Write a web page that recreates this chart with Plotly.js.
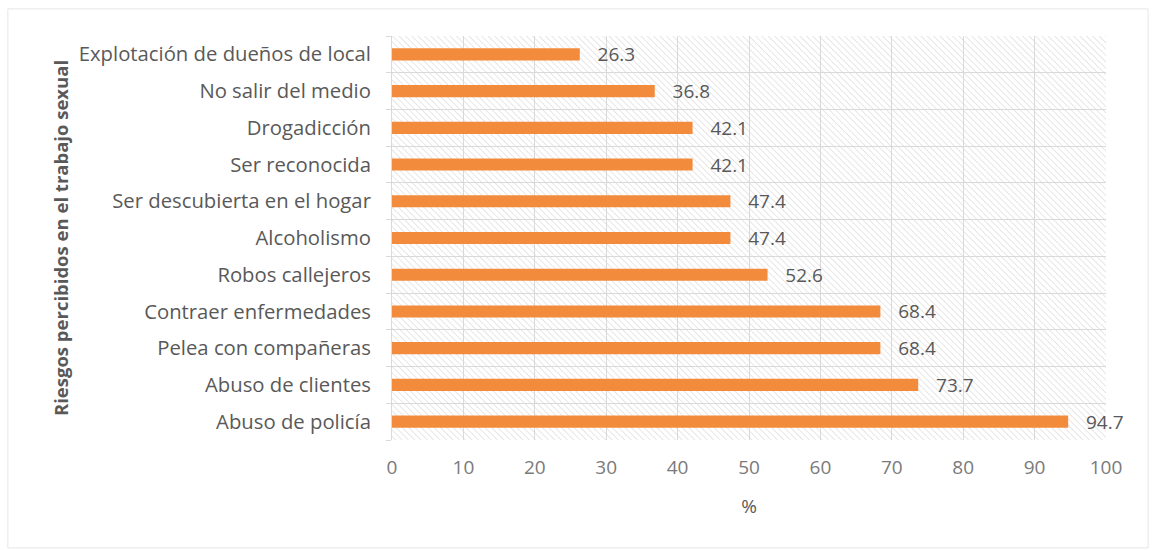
<!DOCTYPE html>
<html><head><meta charset="utf-8">
<script src="https://cdn.plot.ly/plotly-3.0.1.min.js"></script>
<style>html,body{margin:0;padding:0;background:#fff}#chart{width:1154px;height:550px}</style>
</head><body><div id="chart"></div>
<script>
const categories = ["Abuso de policía","Abuso de clientes","Pelea con compañeras","Contraer enfermedades","Robos callejeros","Alcoholismo","Ser descubierta en el hogar","Ser reconocida","Drogadicción","No salir del medio","Explotación de dueños de local"];
const values = [94.7,73.7,68.4,68.4,52.6,47.4,47.4,42.1,42.1,36.8,26.3];
const xTicks = [0,10,20,30,40,50,60,70,80,90,100];

const hatch = 'data:image/svg+xml;utf8,' + encodeURIComponent(
 '<svg xmlns="http://www.w3.org/2000/svg" width="714" height="404"><defs><pattern id="p" width="4.5" height="4.5" patternUnits="userSpaceOnUse" patternTransform="rotate(-45)"><line x1="0" y1="0" x2="0" y2="4.5" stroke="#d6d6d6" stroke-width="1.2"/></pattern></defs><rect width="714" height="404" fill="url(#p)"/></svg>');

const FONT = '"Open Sans", Lato, sans-serif';
const trace = {
  type:'bar', orientation:'h', x:values, y:categories,
  width:0.33,
  marker:{color:'#F28C3C'},
  text:values.map(v=>'\u00a0\u00a0\u00a0' + v.toFixed(1)), textposition:'outside',
  constraintext:'none',
  textfont:{family:FONT, size:19, color:'#595959'},
  cliponaxis:false, hoverinfo:'none'
};
const layout = {
  width:1154, height:550,
  margin:{l:392, r:48, t:36, b:110},
  paper_bgcolor:'#fff', plot_bgcolor:'rgba(0,0,0,0)',
  showlegend:false,
  font:{family:FONT, color:'#595959'},
  xaxis:{range:[0,100], tickvals:xTicks, showgrid:true, gridcolor:'#d9d9d9', gridwidth:1,
    zeroline:false, showline:false, ticks:'', tickfont:{size:19, color:'#7a7a7a'}, ticklabelstandoff:14,
    title:{text:'%', font:{size:19, color:'#595959'}, standoff:20}},
  yaxis:{type:'category', categoryorder:'array', categoryarray:categories,
    range:[-0.5,10.5], tickson:'boundaries', showgrid:true, gridcolor:'#d9d9d9',
    ticks:'outside', ticklen:5, tickcolor:'#d9d9d9', showline:true, linecolor:'#d9d9d9',
    tickfont:{size:20.3, color:'#595959'}, ticklabelstandoff:16,
    title:{text:'<b>Riesgos percibidos en el trabajo sexual</b>', font:{size:18.5, color:'#595959'}, standoff:5}},
  images:[{source:hatch, xref:'paper', yref:'paper', x:0, y:1, sizex:1, sizey:1, sizing:'stretch', layer:'below', xanchor:'left', yanchor:'top'}],
  shapes:[{type:'rect', xref:'paper', yref:'paper', x0:-0.538, x1:1.059, y0:-0.267, y1:1.067, line:{color:'#e6e6e6', width:1}, layer:'below'}]
};
Plotly.newPlot('chart',[trace],layout,{displayModeBar:false, staticPlot:true});
</script></body></html>
